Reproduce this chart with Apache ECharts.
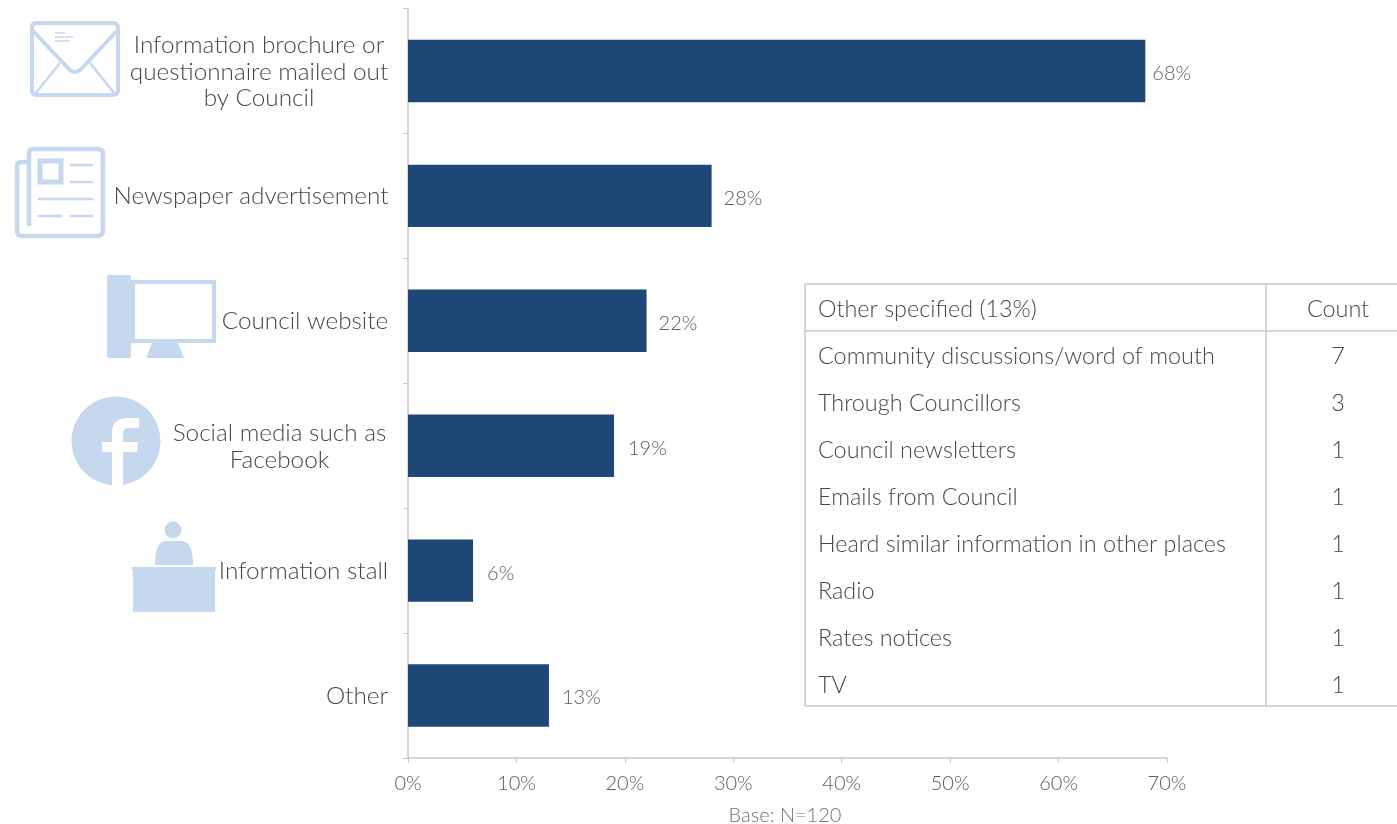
<!DOCTYPE html>
<html>
<head>
<meta charset="utf-8">
<style>html,body{margin:0;padding:0;background:#fff}#chart{width:1397px;height:824px}</style>
<script src="https://cdn.jsdelivr.net/npm/echarts@6/dist/echarts.min.js"></script>
</head>
<body>
<div id="chart"></div>
<script>
// Awareness channels: share of respondents
const categories = ['Information brochure or\nquestionnaire mailed out\nby Council', 'Newspaper advertisement', 'Council website', 'Social media such as\nFacebook', 'Information stall', 'Other'];
const shares = [68, 28, 22, 19, 6, 13];
const axisTicks = [0, 10, 20, 30, 40, 50, 60, 70];
const baseNote = 'Base: N=120';

// Breakdown of the "Other" answers
const otherHeader = ['Other specified (13%)', 'Count'];
const otherAnswers = ['Community discussions/word of mouth', 'Through Councillors', 'Council newsletters', 'Emails from Council', 'Heard similar information in other places', 'Radio', 'Rates notices', 'TV'];
const otherCounts = [7, 3, 1, 1, 1, 1, 1, 1];

const FONT = 'Lato';
const TEXT = '#474747';
const SOFT = '#5c5c5c';
const RULE = '#c9c9c9';
const ICON = '#c5d8ee';
const BAR = '#1f4777';

const outline = { fill: 'none', stroke: ICON, lineWidth: 4, lineJoin: 'round' };
const thin = { fill: 'none', stroke: ICON, lineWidth: 2.5 };
const solid = { fill: ICON };

// The graphic component has no generic path type, so each outline is registered as a shape
let pathCount = 0;
const svgIcon = (d, style) => {
  const type = 'iconPath' + pathCount++;
  echarts.graphic.registerShape(type, echarts.graphic.extendPath(d));
  return { type, style };
};

const icons = [
  // envelope
  svgIcon('M36 23 H113 Q118 23 118 28 V90 Q118 95 113 95 H36 Q32 95 32 90 V28 Q32 23 36 23 Z', outline),
  svgIcon('M33 31 L68 68 Q75 76 82 68 L117 31', outline),
  svgIcon('M35 94 L60 63 M115 94 L90 63', thin),
  svgIcon('M55 33 H65 M55 37 H73 M55 41 H70', { fill: 'none', stroke: ICON, lineWidth: 1.5 }),
  // newspaper
  svgIcon('M29 226 V154 Q29 149 34 149 H97 Q103 149 103 154 V230 Q103 236 97 236 H22 Q17 236 17 230 V166 Q17 162 22 162 H28', { fill: 'none', stroke: ICON, lineWidth: 4.5 }),
  { type: 'rect', shape: { x: 40, y: 161, width: 21, height: 21 }, style: { fill: 'none', stroke: ICON, lineWidth: 5 } },
  svgIcon('M70 165 H93 M70 182 H93 M38 199 H93 M38 216 H62 M70 216 H93', thin),
  // desktop computer
  { type: 'rect', shape: { x: 107, y: 275, width: 24, height: 83, r: 2 }, style: solid },
  { type: 'rect', shape: { x: 133, y: 282, width: 81, height: 59 }, style: { fill: 'none', stroke: ICON, lineWidth: 4 } },
  svgIcon('M152 343 H178 L184 358 H146 Z', solid),
  // Facebook badge
  { type: 'circle', shape: { cx: 116, cy: 441, r: 44.5 }, style: solid },
  svgIcon('M112 486 V452 H102 V442 H112 V432 Q112 419 126 418 H139 V428 H129 Q123 428 123 433 V442 H138 L137 452 H123 V486 Z', { fill: '#fff' }),
  // staffed information desk
  { type: 'circle', shape: { cx: 173, cy: 530, r: 8.5 }, style: solid },
  svgIcon('M155 565 Q155 541 166 541 H182 Q193 541 193 565 Z', solid),
  { type: 'rect', shape: { x: 132, y: 567, width: 84, height: 3 }, style: solid },
  { type: 'rect', shape: { x: 133, y: 570, width: 82, height: 42 }, style: solid }
];

// Inset table
const TABLE = { left: 805, right: 1397, top: 284, bottom: 706, split: 1266, head: 331, firstRow: 356, step: 47 };
const rule = (x1, y1, x2, y2) => ({ type: 'line', shape: { x1, y1, x2, y2 }, style: { stroke: RULE, lineWidth: 1.5 } });
const cell = (text, x, y, align) => ({
  type: 'text',
  style: { text: String(text), x, y, fill: TEXT, font: `300 23.4px ${FONT}`, align, verticalAlign: 'middle' }
});
const countX = 1338;
const table = [
  rule(TABLE.left, TABLE.top, TABLE.right, TABLE.top),
  rule(TABLE.left, TABLE.head, TABLE.right, TABLE.head),
  rule(TABLE.left, TABLE.bottom, TABLE.right, TABLE.bottom),
  rule(TABLE.left, TABLE.top, TABLE.left, TABLE.bottom),
  rule(TABLE.split, TABLE.top, TABLE.split, TABLE.bottom),
  cell(otherHeader[0], 818, 309, 'left'),
  cell(otherHeader[1], countX, 309, 'center'),
  ...otherAnswers.flatMap((answer, i) => [
    cell(answer, 818, TABLE.firstRow + i * TABLE.step, 'left'),
    cell(otherCounts[i], countX, TABLE.firstRow + i * TABLE.step, 'center')
  ])
];

const note = {
  type: 'text',
  style: { text: baseNote, x: 785, y: 816, fill: '#737373', font: `300 20px ${FONT}`, align: 'center', verticalAlign: 'middle' }
};

// Category labels keep their lines centred inside a block that sits against the axis
const labelWidths = { a: 258, b: 274, c: 166, d: 217, e: 169, f: 62 };
const labelKeys = ['a', 'b', 'c', 'd', 'e', 'f'];
const rich = {};
labelKeys.forEach((k) => {
  rich[k] = { width: labelWidths[k], align: 'center', fontFamily: FONT, fontWeight: 300, fontSize: 24.3, lineHeight: 26.5, color: TEXT, padding: [1.5, 0, 0, 0] };
});

// Value labels sit a little unevenly beside their bars
const labelGaps = [7, 12, 12, 14, 14, 13];

const chart = echarts.init(document.getElementById('chart'), null, { renderer: 'canvas' });
chart.setOption({
  animation: false,
  backgroundColor: '#fff',
  grid: { left: 408, top: 8.5, width: 759, height: 749.5, containLabel: false },
  xAxis: {
    type: 'value',
    min: axisTicks[0],
    max: axisTicks[axisTicks.length - 1],
    interval: axisTicks[1] - axisTicks[0],
    axisLine: { show: true, lineStyle: { color: RULE, width: 1.5 } },
    axisTick: { show: true, length: 5, lineStyle: { color: RULE } },
    splitLine: { show: false },
    axisLabel: { formatter: '{value}%', color: SOFT, fontFamily: FONT, fontWeight: 300, fontSize: 20, margin: 16 }
  },
  yAxis: {
    type: 'category',
    inverse: true,
    data: categories,
    axisLine: { show: true, onZero: false, lineStyle: { color: RULE, width: 1.5 } },
    axisTick: { show: true, length: 5, alignWithLabel: false, lineStyle: { color: RULE } },
    axisLabel: {
      margin: 20,
      color: TEXT,
      formatter: (value, i) => value.split('\n').map((l) => `{${labelKeys[i]}|${l}}`).join('\n'),
      rich
    }
  },
  series: [{
    type: 'bar',
    data: shares.map((value, i) => ({ value, label: { distance: labelGaps[i] } })),
    barWidth: '50%',
    itemStyle: { color: BAR },
    label: { show: true, position: 'right', offset: [0, 2.5], formatter: '{c}%', color: SOFT, fontFamily: FONT, fontWeight: 300, fontSize: 20 }
  }],
  graphic: { elements: [...icons, ...table, note].map((el) => ({ ...el, silent: true })) }
});
</script>
</body>
</html>
